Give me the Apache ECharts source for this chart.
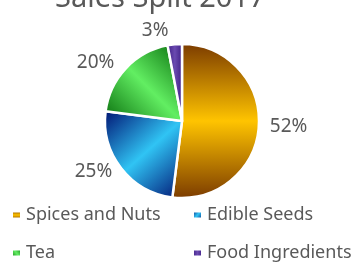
<!DOCTYPE html>
<html>
<head>
<meta charset="utf-8">
<script src="https://cdn.jsdelivr.net/npm/echarts@6/dist/echarts.min.js"></script>
<style>
  html, body { margin: 0; padding: 0; background: #ffffff; }
  #chart { width: 361px; height: 264px; }
</style>
</head>
<body>
<div id="chart"></div>
<script>
const titleText = 'Sales Split 2017'
const categories = ['Spices and Nuts', 'Edible Seeds', 'Tea', 'Food Ingredients']
const shares = [52, 25, 20, 3]

const grad = (x, y, x2, y2, dark, light) =>
  new echarts.graphic.LinearGradient(x, y, x2, y2, [
    { offset: 0, color: dark },
    { offset: 0.5, color: light },
    { offset: 1, color: dark },
  ])

const fills = [
  grad(0, 0, 0, 1, '#7a3a00', '#ffc400'),
  grad(0, 0, 1, 1, '#001070', '#30c4f4'),
  grad(1, 0, 0, 1, '#066a0a', '#62ee62'),
  grad(0, 0, 1, 0, '#3a1a80', '#6a4ab0'),
]
// how far each % label sits out from the pie
const labelGaps = [6, 5, 9, 14]

// legend grid slots: [left, top] for each category
const legendSlots = [[11, 205], [192, 205], [11, 243], [192, 243]]

const textColor = '#595959'
const font = 'Noto Sans'

const chart = echarts.init(document.getElementById('chart'), null, { renderer: 'canvas' })

chart.setOption({
  animation: false,
  title: {
    text: titleText,
    left: 50,
    top: -21,
    textStyle: { color: textColor, fontFamily: font, fontSize: 29, fontWeight: 'normal' },
  },
  legend: categories.map((name, i) => ({
    data: [name],
    left: legendSlots[i][0],
    top: legendSlots[i][1],
    padding: 0,
    itemWidth: 9,
    itemHeight: 7,
    icon: 'rect',
    textStyle: { color: textColor, fontFamily: font, fontSize: 18, lineHeight: 20 },
  })),
  series: [
    {
      type: 'pie',
      center: [182, 121],
      radius: 77,
      startAngle: 90,
      clockwise: true,
      data: categories.map((name, i) => ({
        name,
        value: shares[i],
        itemStyle: { color: fills[i] },
        labelLine: { length: labelGaps[i] },
      })),
      itemStyle: { borderColor: '#ffffff', borderWidth: 2.5 },
      label: {
        show: true,
        position: 'outside',
        formatter: '{c}%',
        color: textColor,
        fontFamily: font,
        fontSize: 19,
      },
      labelLine: { show: false, length: 10, length2: 0 },
    },
  ],
})
</script>
</body>
</html>
